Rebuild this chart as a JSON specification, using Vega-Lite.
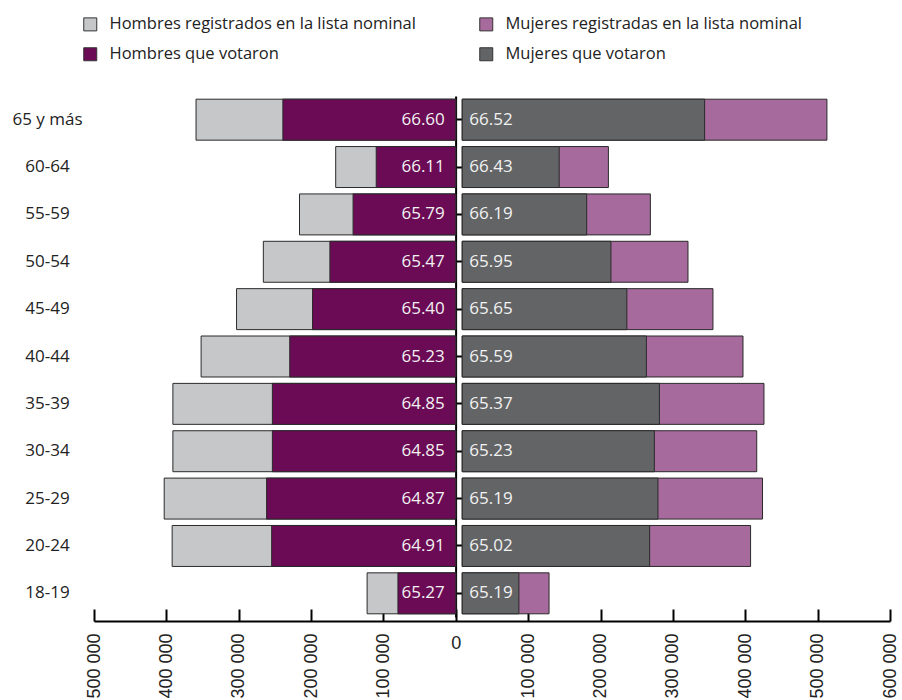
{
  "$schema": "https://vega.github.io/schema/vega-lite/v6.json",
  "width": 796,
  "height": 521,
  "autosize": "none",
  "padding": {"left": 94, "top": 96, "right": 12, "bottom": 90},
  "config": {"view": {"stroke": null}, "font": "Open Sans"},
  "datasets": {
    "barras": [
      {"edad": "65 y más", "serie": "Hombres registrados en la lista nominal", "sexo": "H", "valor": 359000},
      {"edad": "60-64", "serie": "Hombres registrados en la lista nominal", "sexo": "H", "valor": 166000},
      {"edad": "55-59", "serie": "Hombres registrados en la lista nominal", "sexo": "H", "valor": 216000},
      {"edad": "50-54", "serie": "Hombres registrados en la lista nominal", "sexo": "H", "valor": 266000},
      {"edad": "45-49", "serie": "Hombres registrados en la lista nominal", "sexo": "H", "valor": 303000},
      {"edad": "40-44", "serie": "Hombres registrados en la lista nominal", "sexo": "H", "valor": 352000},
      {"edad": "35-39", "serie": "Hombres registrados en la lista nominal", "sexo": "H", "valor": 391000},
      {"edad": "30-34", "serie": "Hombres registrados en la lista nominal", "sexo": "H", "valor": 391000},
      {"edad": "25-29", "serie": "Hombres registrados en la lista nominal", "sexo": "H", "valor": 403000},
      {"edad": "20-24", "serie": "Hombres registrados en la lista nominal", "sexo": "H", "valor": 392000},
      {"edad": "18-19", "serie": "Hombres registrados en la lista nominal", "sexo": "H", "valor": 122600},
      {"edad": "65 y más", "serie": "Hombres que votaron", "sexo": "H", "valor": 239000},
      {"edad": "60-64", "serie": "Hombres que votaron", "sexo": "H", "valor": 110000},
      {"edad": "55-59", "serie": "Hombres que votaron", "sexo": "H", "valor": 142000},
      {"edad": "50-54", "serie": "Hombres que votaron", "sexo": "H", "valor": 174000},
      {"edad": "45-49", "serie": "Hombres que votaron", "sexo": "H", "valor": 198000},
      {"edad": "40-44", "serie": "Hombres que votaron", "sexo": "H", "valor": 229500},
      {"edad": "35-39", "serie": "Hombres que votaron", "sexo": "H", "valor": 253500},
      {"edad": "30-34", "serie": "Hombres que votaron", "sexo": "H", "valor": 253500},
      {"edad": "25-29", "serie": "Hombres que votaron", "sexo": "H", "valor": 261500},
      {"edad": "20-24", "serie": "Hombres que votaron", "sexo": "H", "valor": 254500},
      {"edad": "18-19", "serie": "Hombres que votaron", "sexo": "H", "valor": 80000},
      {"edad": "65 y más", "serie": "Mujeres registradas en la lista nominal", "sexo": "M", "valor": 504000},
      {"edad": "60-64", "serie": "Mujeres registradas en la lista nominal", "sexo": "M", "valor": 202000},
      {"edad": "55-59", "serie": "Mujeres registradas en la lista nominal", "sexo": "M", "valor": 260000},
      {"edad": "50-54", "serie": "Mujeres registradas en la lista nominal", "sexo": "M", "valor": 312000},
      {"edad": "45-49", "serie": "Mujeres registradas en la lista nominal", "sexo": "M", "valor": 346500},
      {"edad": "40-44", "serie": "Mujeres registradas en la lista nominal", "sexo": "M", "valor": 388000},
      {"edad": "35-39", "serie": "Mujeres registradas en la lista nominal", "sexo": "M", "valor": 417000},
      {"edad": "30-34", "serie": "Mujeres registradas en la lista nominal", "sexo": "M", "valor": 407000},
      {"edad": "25-29", "serie": "Mujeres registradas en la lista nominal", "sexo": "M", "valor": 415000},
      {"edad": "20-24", "serie": "Mujeres registradas en la lista nominal", "sexo": "M", "valor": 398500},
      {"edad": "18-19", "serie": "Mujeres registradas en la lista nominal", "sexo": "M", "valor": 120000},
      {"edad": "65 y más", "serie": "Mujeres que votaron", "sexo": "M", "valor": 335000},
      {"edad": "60-64", "serie": "Mujeres que votaron", "sexo": "M", "valor": 134000},
      {"edad": "55-59", "serie": "Mujeres que votaron", "sexo": "M", "valor": 172000},
      {"edad": "50-54", "serie": "Mujeres que votaron", "sexo": "M", "valor": 205500},
      {"edad": "45-49", "serie": "Mujeres que votaron", "sexo": "M", "valor": 227500},
      {"edad": "40-44", "serie": "Mujeres que votaron", "sexo": "M", "valor": 254500},
      {"edad": "35-39", "serie": "Mujeres que votaron", "sexo": "M", "valor": 272500},
      {"edad": "30-34", "serie": "Mujeres que votaron", "sexo": "M", "valor": 265500},
      {"edad": "25-29", "serie": "Mujeres que votaron", "sexo": "M", "valor": 270500},
      {"edad": "20-24", "serie": "Mujeres que votaron", "sexo": "M", "valor": 259000},
      {"edad": "18-19", "serie": "Mujeres que votaron", "sexo": "M", "valor": 78300}
    ],
    "tasas": [
      {"edad": "65 y más", "sexo": "H", "tasa": 66.60},
      {"edad": "60-64", "sexo": "H", "tasa": 66.11},
      {"edad": "55-59", "sexo": "H", "tasa": 65.79},
      {"edad": "50-54", "sexo": "H", "tasa": 65.47},
      {"edad": "45-49", "sexo": "H", "tasa": 65.40},
      {"edad": "40-44", "sexo": "H", "tasa": 65.23},
      {"edad": "35-39", "sexo": "H", "tasa": 64.85},
      {"edad": "30-34", "sexo": "H", "tasa": 64.85},
      {"edad": "25-29", "sexo": "H", "tasa": 64.87},
      {"edad": "20-24", "sexo": "H", "tasa": 64.91},
      {"edad": "18-19", "sexo": "H", "tasa": 65.27},
      {"edad": "65 y más", "sexo": "M", "tasa": 66.52},
      {"edad": "60-64", "sexo": "M", "tasa": 66.43},
      {"edad": "55-59", "sexo": "M", "tasa": 66.19},
      {"edad": "50-54", "sexo": "M", "tasa": 65.95},
      {"edad": "45-49", "sexo": "M", "tasa": 65.65},
      {"edad": "40-44", "sexo": "M", "tasa": 65.59},
      {"edad": "35-39", "sexo": "M", "tasa": 65.37},
      {"edad": "30-34", "sexo": "M", "tasa": 65.23},
      {"edad": "25-29", "sexo": "M", "tasa": 65.19},
      {"edad": "20-24", "sexo": "M", "tasa": 65.02},
      {"edad": "18-19", "sexo": "M", "tasa": 65.19}
    ]
  },
  "resolve": {"axis": {"x": "independent", "y": "independent"}},
  "layer": [
    {
      "data": {"name": "barras"},
      "transform": [
        {"filter": "datum.serie === 'Hombres registrados en la lista nominal'"},
        {"calculate": "-datum.valor", "as": "v"}
      ],
      "mark": {"type": "bar", "stroke": "#2a2a2a", "strokeWidth": 1},
      "encoding": {
        "y": {
          "field": "edad", "type": "nominal",
          "sort": ["65 y más", "60-64", "55-59", "50-54", "45-49", "40-44", "35-39", "30-34", "25-29", "20-24", "18-19"],
          "scale": {"paddingInner": 0.135, "paddingOuter": 0.0675},
          "axis": {"orient": "left", "domain": false, "ticks": false, "tickSize": 0, "labelAlign": "center", "labelBaseline": "middle", "labelPadding": 47, "labelFont": "Open Sans", "labelFontSize": 17, "labelColor": "#222222", "title": null, "grid": false}
        },
        "x": {
          "field": "v", "type": "quantitative",
          "scale": {"domain": [-500000, 600000], "nice": false, "zero": false},
          "axis": {
            "orient": "bottom", "offset": 4,
            "values": [-500000, -400000, -300000, -200000, -100000, 100000, 200000, 300000, 400000, 500000, 600000],
            "domain": true, "domainColor": "#000000", "domainWidth": 2,
            "ticks": false, "tickSize": 0, "grid": false, "title": null,
            "labelExpr": "replace(format(abs(datum.value), ','), ',', ' ')",
            "labelFont": "Liberation Sans", "labelFontSize": 18, "labelColor": "#222222",
            "labelPadding": 12, "labelAngle": 270, "labelAlign": "right", "labelBaseline": "middle",
            "labelOverlap": false, "labelFlush": false, "labelBound": false
          }
        },
        "x2": {"datum": 0},
        "color": {
          "field": "serie", "type": "nominal",
          "scale": {
            "domain": ["Hombres registrados en la lista nominal", "Hombres que votaron", "Mujeres registradas en la lista nominal", "Mujeres que votaron"],
            "range": ["#c6c7c9", "#6b0a55", "#a66b9c", "#636466"]
          },
          "legend": {
            "orient": "none", "legendX": -12, "legendY": -80, "columns": 2, "columnPadding": 61, "rowPadding": 12,
            "symbolType": "square", "symbolSize": 169, "symbolStrokeColor": "#333333", "symbolStrokeWidth": 1, "symbolOpacity": 1,
            "labelFont": "Open Sans", "labelFontSize": 16.5, "labelColor": "#222222", "labelOffset": 11, "labelLimit": 500, "title": null
          }
        }
      }
    },
    {
      "data": {"name": "barras"},
      "transform": [
        {"filter": "datum.serie === 'Hombres que votaron'"},
        {"calculate": "-datum.valor", "as": "v"}
      ],
      "mark": {"type": "bar", "stroke": "#2a2a2a", "strokeWidth": 1},
      "encoding": {
        "y": {
          "field": "edad", "type": "nominal",
          "sort": ["65 y más", "60-64", "55-59", "50-54", "45-49", "40-44", "35-39", "30-34", "25-29", "20-24", "18-19"],
          "scale": {"paddingInner": 0.135, "paddingOuter": 0.0675},
          "axis": null
        },
        "x": {
          "field": "v", "type": "quantitative",
          "scale": {"domain": [-500000, 600000], "nice": false, "zero": false},
          "axis": {
            "orient": "top", "offset": -525,
            "values": [-500000, -400000, -300000, -200000, -100000, 0, 100000, 200000, 300000, 400000, 500000, 600000],
            "domain": false, "ticks": true, "tickSize": 12, "tickWidth": 2, "tickColor": "#000000",
            "labels": false, "grid": false, "title": null
          }
        },
        "x2": {"datum": 0},
        "color": {
          "field": "serie", "type": "nominal",
          "scale": {
            "domain": ["Hombres registrados en la lista nominal", "Hombres que votaron", "Mujeres registradas en la lista nominal", "Mujeres que votaron"],
            "range": ["#c6c7c9", "#6b0a55", "#a66b9c", "#636466"]
          },
          "legend": null
        }
      }
    },
    {
      "data": {"name": "barras"},
      "transform": [
        {"filter": "datum.serie === 'Mujeres registradas en la lista nominal'"},
        {"calculate": "datum.valor", "as": "v"}
      ],
      "mark": {"type": "bar", "stroke": "#2a2a2a", "strokeWidth": 1, "xOffset": 6.4, "x2Offset": 6.4},
      "encoding": {
        "y": {
          "field": "edad", "type": "nominal",
          "sort": ["65 y más", "60-64", "55-59", "50-54", "45-49", "40-44", "35-39", "30-34", "25-29", "20-24", "18-19"],
          "scale": {"paddingInner": 0.135, "paddingOuter": 0.0675},
          "axis": {"orient": "right", "offset": -434.4, "domain": true, "domainColor": "#000000", "domainWidth": 2, "ticks": true, "tickSize": 6, "tickWidth": 2, "tickColor": "#000000", "labels": false, "grid": false, "title": null}
        },
        "x": {
          "field": "v", "type": "quantitative",
          "scale": {"domain": [-500000, 600000], "nice": false, "zero": false},
          "axis": {
            "orient": "bottom", "offset": 4, "values": [0],
            "domain": false, "ticks": false, "tickSize": 0, "grid": false, "title": null,
            "labelFont": "Liberation Sans", "labelFontSize": 18, "labelColor": "#222222",
            "labelPadding": 13, "labelAngle": 0, "labelAlign": "center", "labelBaseline": "top",
            "labelOverlap": false, "labelFlush": false, "labelBound": false
          }
        },
        "x2": {"datum": 0},
        "color": {
          "field": "serie", "type": "nominal",
          "scale": {
            "domain": ["Hombres registrados en la lista nominal", "Hombres que votaron", "Mujeres registradas en la lista nominal", "Mujeres que votaron"],
            "range": ["#c6c7c9", "#6b0a55", "#a66b9c", "#636466"]
          },
          "legend": null
        }
      }
    },
    {
      "data": {"name": "barras"},
      "transform": [
        {"filter": "datum.serie === 'Mujeres que votaron'"},
        {"calculate": "datum.valor", "as": "v"}
      ],
      "mark": {"type": "bar", "stroke": "#2a2a2a", "strokeWidth": 1, "xOffset": 6.4, "x2Offset": 6.4},
      "encoding": {
        "y": {
          "field": "edad", "type": "nominal",
          "sort": ["65 y más", "60-64", "55-59", "50-54", "45-49", "40-44", "35-39", "30-34", "25-29", "20-24", "18-19"],
          "scale": {"paddingInner": 0.135, "paddingOuter": 0.0675},
          "axis": null
        },
        "x": {
          "field": "v", "type": "quantitative",
          "scale": {"domain": [-500000, 600000], "nice": false, "zero": false},
          "axis": null
        },
        "x2": {"datum": 0},
        "color": {
          "field": "serie", "type": "nominal",
          "scale": {
            "domain": ["Hombres registrados en la lista nominal", "Hombres que votaron", "Mujeres registradas en la lista nominal", "Mujeres que votaron"],
            "range": ["#c6c7c9", "#6b0a55", "#a66b9c", "#636466"]
          },
          "legend": null
        }
      }
    },
    {
      "data": {"name": "tasas"},
      "transform": [{"filter": "datum.sexo === 'H'"}],
      "mark": {"type": "text", "align": "right", "baseline": "middle", "dx": -11, "font": "Open Sans", "fontSize": 17, "color": "#f2f2f2"},
      "encoding": {
        "y": {
          "field": "edad", "type": "nominal",
          "sort": ["65 y más", "60-64", "55-59", "50-54", "45-49", "40-44", "35-39", "30-34", "25-29", "20-24", "18-19"],
          "scale": {"paddingInner": 0.135, "paddingOuter": 0.0675},
          "axis": null
        },
        "x": {"datum": 0, "type": "quantitative", "scale": {"domain": [-500000, 600000], "nice": false, "zero": false}, "axis": null},
        "text": {"field": "tasa", "type": "quantitative", "format": ".2f"}
      }
    },
    {
      "data": {"name": "tasas"},
      "transform": [{"filter": "datum.sexo === 'M'"}],
      "mark": {"type": "text", "align": "left", "baseline": "middle", "dx": 13.5, "font": "Open Sans", "fontSize": 17, "color": "#f2f2f2"},
      "encoding": {
        "y": {
          "field": "edad", "type": "nominal",
          "sort": ["65 y más", "60-64", "55-59", "50-54", "45-49", "40-44", "35-39", "30-34", "25-29", "20-24", "18-19"],
          "scale": {"paddingInner": 0.135, "paddingOuter": 0.0675},
          "axis": null
        },
        "x": {"datum": 0, "type": "quantitative", "scale": {"domain": [-500000, 600000], "nice": false, "zero": false}, "axis": null},
        "text": {"field": "tasa", "type": "quantitative", "format": ".2f"}
      }
    }
  ]
}
